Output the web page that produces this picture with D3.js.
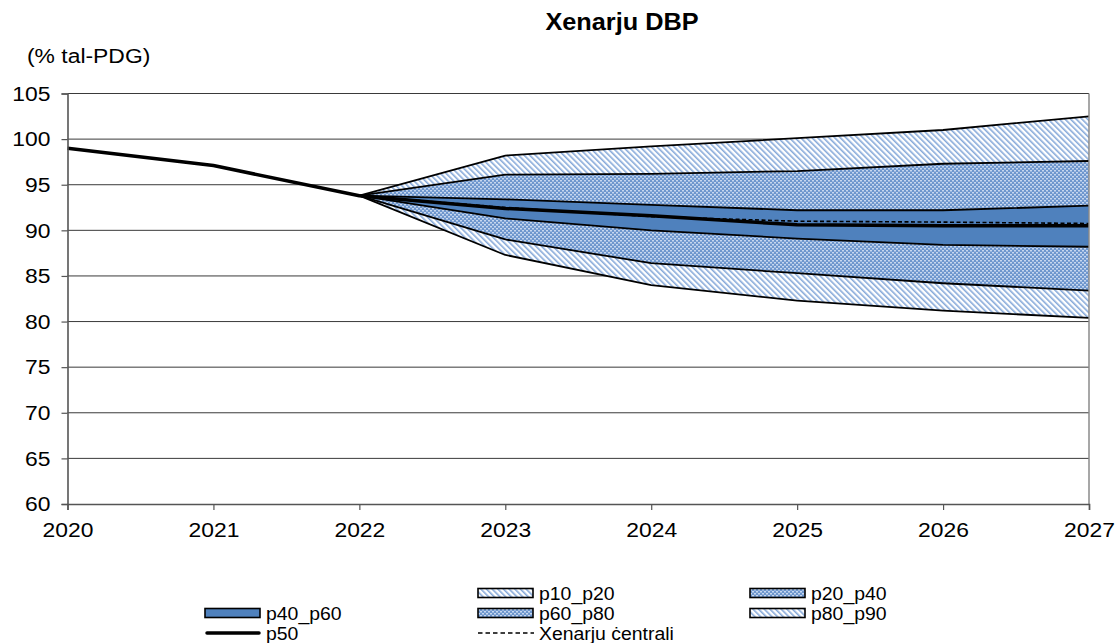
<!DOCTYPE html>
<html>
<head>
<meta charset="utf-8">
<script src="https://cdn.jsdelivr.net/npm/d3@7"></script>
<style>
  html, body { margin: 0; padding: 0; background: #fff; }
  svg { display: block; font-family: "Liberation Sans", Arial, sans-serif; }
</style>
</head>
<body>
<svg id="chart" width="1120" height="643"></svg>
<script>
// Years on the x axis
const years = [2020, 2021, 2022, 2023, 2024, 2025, 2026, 2027];
// Fan chart percentiles start from the last outturn year
const fanYears = [2022, 2023, 2024, 2025, 2026, 2027];
const p10 = [93.8, 87.3, 84.0, 82.3, 81.2, 80.4];
const p20 = [93.8, 89.0, 86.4, 85.3, 84.2, 83.4];
const p40 = [93.8, 91.3, 90.0, 89.1, 88.4, 88.2];
const p60 = [93.8, 93.4, 92.8, 92.2, 92.2, 92.7];
const p80 = [93.8, 96.1, 96.2, 96.5, 97.3, 97.6];
const p90 = [93.8, 98.2, 99.2, 100.1, 101.0, 102.5];
// Median path, including history
const p50 = [99.0, 97.1, 93.8, 92.4, 91.6, 90.6, 90.5, 90.5];
// Central scenario
const central = [93.8, 92.5, 91.5, 91.0, 90.9, 90.75];
const yTicks = [60, 65, 70, 75, 80, 85, 90, 95, 100, 105];

const svg = d3.select("#chart");
const x = d3.scaleLinear().domain([2020, 2027]).range([67.5, 1089]);
const y = d3.scaleLinear().domain([60, 105]).range([504, 93.5]);

// Widen text horizontally around its anchor point
function widen(sel, sx) {
  sel.each(function () {
    const t = d3.select(this);
    const tx = +t.attr("x") || 0, ty = +t.attr("y") || 0;
    t.attr("x", 0).attr("y", 0)
      .attr("transform", `translate(${tx},${ty}) scale(${sx},1)`);
  });
}

// Patterns
const defs = svg.append("defs");
const hatch = defs.append("pattern").attr("id", "hatch")
  .attr("patternUnits", "userSpaceOnUse").attr("width", 4).attr("height", 4)
  .attr("patternTransform", "rotate(-45)");
hatch.append("rect").attr("width", 4).attr("height", 4).attr("fill", "#ffffff");
hatch.append("rect").attr("x", 0).attr("width", 1.6).attr("height", 4).attr("fill", "#86a9d9");

const dots = defs.append("pattern").attr("id", "dots")
  .attr("patternUnits", "userSpaceOnUse").attr("width", 4).attr("height", 4);
dots.append("rect").attr("width", 4).attr("height", 4).attr("fill", "#6d96cd");
dots.append("rect").attr("x", 0).attr("y", 0).attr("width", 2).attr("height", 1.5).attr("fill", "#c6d7ef");
dots.append("rect").attr("x", 2).attr("y", 2).attr("width", 2).attr("height", 1.5).attr("fill", "#c6d7ef");

// Gridlines
svg.append("g").selectAll("line").data(yTicks.filter(d => d > 60)).join("line")
  .attr("x1", x(2020)).attr("x2", x(2027))
  .attr("y1", d => y(d)).attr("y2", d => y(d))
  .attr("stroke", "#3a3a3a").attr("stroke-width", 1);

// Bands
const bands = [
  { lo: p10, hi: p20, fill: "url(#hatch)" },
  { lo: p20, hi: p40, fill: "url(#dots)" },
  { lo: p40, hi: p60, fill: "#4f81bd" },
  { lo: p60, hi: p80, fill: "url(#dots)" },
  { lo: p80, hi: p90, fill: "url(#hatch)" }
];
const area = d3.area().x(d => x(d.yr)).y0(d => y(d.lo)).y1(d => y(d.hi));
svg.append("g").selectAll("path").data(bands).join("path")
  .attr("d", b => area(fanYears.map((yr, i) => ({ yr, lo: b.lo[i], hi: b.hi[i] }))))
  .attr("fill", b => b.fill);

// Band edges
const line = d3.line().x(d => x(d[0])).y(d => y(d[1]));
[p10, p20, p40, p60, p80, p90].forEach(s => {
  svg.append("path").attr("d", line(fanYears.map((yr, i) => [yr, s[i]])))
    .attr("fill", "none").attr("stroke", "#000").attr("stroke-width", 1.8)
    .attr("stroke-linejoin", "round");
});

// Central scenario (dashed)
svg.append("path").attr("d", line(fanYears.map((yr, i) => [yr, central[i]])))
  .attr("fill", "none").attr("stroke", "#000").attr("stroke-width", 1.6)
  .attr("stroke-dasharray", "4,2.5");

// Median (thick)
svg.append("path").attr("d", line(years.map((yr, i) => [yr, p50[i]])))
  .attr("fill", "none").attr("stroke", "#000").attr("stroke-width", 3.5)
  .attr("stroke-linejoin", "round");

// Right border
svg.append("line").attr("x1", x(2027)).attr("x2", x(2027))
  .attr("y1", y(105)).attr("y2", y(60))
  .attr("stroke", "#8a8a8a").attr("stroke-width", 1.5);

// Axes
const yAxis = d3.axisLeft(y).tickValues(yTicks).tickSize(6).tickPadding(11);
const gy = svg.append("g").attr("transform", `translate(${x(2020)},0)`).call(yAxis);
const xAxis = d3.axisBottom(x).tickValues(years).tickFormat(d3.format("d")).tickSize(6).tickPadding(12);
const gx = svg.append("g").attr("transform", `translate(0,${y(60)})`).call(xAxis);
[gx, gy].forEach(g => {
  g.select(".domain").attr("stroke", "#555").attr("stroke-width", 1.6);
  g.selectAll(".tick line").attr("stroke", "#555").attr("stroke-width", 1.2);
  const tt = g.selectAll(".tick text").attr("font-size", 21).attr("fill", "#000")
    .attr("font-family", "'Liberation Sans', Arial, sans-serif");
  widen(tt, 1.09);
});

// Titles
const title = svg.append("text").attr("x", 622).attr("y", 30).attr("text-anchor", "middle")
  .attr("font-size", 23).attr("font-weight", "bold").text("Xenarju DBP");
widen(title, 1.1);
const unit = svg.append("text").attr("x", 27).attr("y", 63).attr("font-size", 21).text("(% tal-PDG)");
widen(unit, 1.09);

// Legend
const legendItems = [
  { label: "p10_p20", fill: "url(#hatch)", col: 1, row: 0 },
  { label: "p20_p40", fill: "url(#dots)", col: 2, row: 0 },
  { label: "p40_p60", fill: "#4f81bd", col: 0, row: 1 },
  { label: "p60_p80", fill: "url(#dots)", col: 1, row: 1 },
  { label: "p80_p90", fill: "url(#hatch)", col: 2, row: 1 },
  { label: "p50", type: "solid", col: 0, row: 2 },
  { label: "Xenarju ċentrali", type: "dash", col: 1, row: 2 }
];
const colX = [205, 478, 750];
const rowY = [593, 613, 633];
const lg = svg.append("g");
legendItems.forEach(it => {
  const g = lg.append("g").attr("transform", `translate(${colX[it.col]},${rowY[it.row]})`);
  if (it.type === "solid") {
    g.append("line").attr("x1", 2).attr("x2", 54).attr("y1", 0).attr("y2", 0)
      .attr("stroke", "#000").attr("stroke-width", 3.5).attr("stroke-linecap", "round");
  } else if (it.type === "dash") {
    g.append("line").attr("x1", 0).attr("x2", 56).attr("y1", 0).attr("y2", 0)
      .attr("stroke", "#000").attr("stroke-width", 1.5).attr("stroke-dasharray", "4.5,3");
  } else {
    g.append("rect").attr("x", 0).attr("y", -4.5).attr("width", 55).attr("height", 9)
      .attr("fill", it.fill).attr("stroke", "#000").attr("stroke-width", 1.6);
  }
  const t = g.append("text").attr("x", 61).attr("y", 6.5).attr("font-size", 18.5).text(it.label);
  widen(t, 1.05);
});
</script>
</body>
</html>
